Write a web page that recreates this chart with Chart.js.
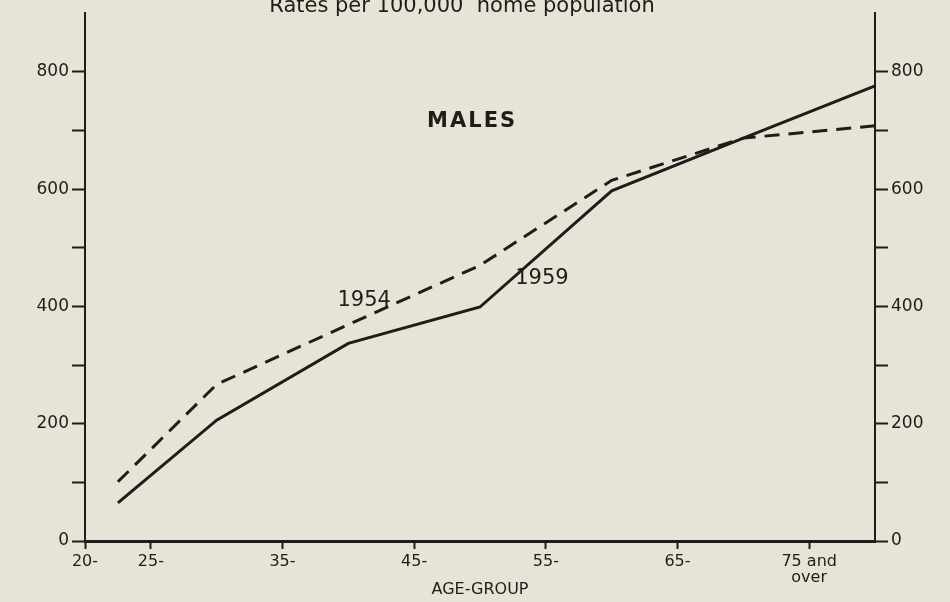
<!DOCTYPE html>
<html>
<head>
<meta charset="utf-8">
<script src="https://cdn.jsdelivr.net/npm/chart.js@4.4.1/dist/chart.umd.min.js"></script>
<style>
  html, body { margin: 0; padding: 0; background: #e7e3d6; }
  #wrap { width: 950px; height: 602px; }
</style>
</head>
<body>
<div id="wrap"><canvas id="chart" width="950" height="602"></canvas></div>
<script>
// age-group midpoints (x) and rates per 100,000 home population (y)
const ageMid = [22.5, 30, 40, 50, 60, 70, 80];
const rates1959 = [65, 206, 337, 399, 597, 687, 776];
const rates1954 = [101, 267, 369, 470, 615, 687, 708];

// x axis ticks
const ageTicks = [20, 25, 35, 45, 55, 65, 75];
const ageLabels = ["20-", "25-", "35-", "45-", "55-", "65-", ["75 and", "over"]];

// y axis ticks (labels only on every 200)
const rateTicks = [0, 100, 200, 300, 400, 500, 600, 700, 800];

const INK = "#1f1c19";
const PAPER = "#e7e3d6";
const FONT = "'DejaVu Sans', sans-serif";

const toPoints = (xs, ys) => xs.map((x, i) => ({ x: x, y: ys[i] }));

// paper background
const paperBg = {
  id: "paperBg",
  beforeDraw(chart) {
    const ctx = chart.ctx;
    ctx.save();
    ctx.fillStyle = PAPER;
    ctx.fillRect(0, 0, chart.width, chart.height);
    ctx.restore();
  },
};

// title and in-plot labels
const labelsPlugin = {
  id: "labelsPlugin",
  afterDraw(chart) {
    const ctx = chart.ctx;
    const xs = chart.scales.x;
    const ys = chart.scales.y;
    ctx.save();
    ctx.fillStyle = INK;
    ctx.textAlign = "center";

    // title, cut at the top edge as in the scan
    ctx.textBaseline = "alphabetic";
    ctx.font = "21px " + FONT;
    ctx.fillText("Rates per 100,000  home population", 462, 12);

    ctx.textBaseline = "middle";
    ctx.font = "bold 21px " + FONT;
    ctx.letterSpacing = "2px";
    ctx.fillText("MALES", xs.getPixelForValue(49.4), ys.getPixelForValue(716));
    ctx.letterSpacing = "0px";

    ctx.font = "21px " + FONT;
    ctx.fillText("1954", xs.getPixelForValue(41.2), ys.getPixelForValue(410));
    ctx.fillText("1959", xs.getPixelForValue(54.7), ys.getPixelForValue(448));
    ctx.restore();
  },
};

const yAxis = (position, width) => ({
  type: "linear",
  position: position,
  min: 0,
  max: 900,
  afterBuildTicks: (s) => { s.ticks = rateTicks.map((v) => ({ value: v })); },
  afterFit: (s) => { s.width = width; },
  border: { display: true, color: INK, width: 2 },
  grid: {
    drawOnChartArea: false,
    drawTicks: true,
    tickLength: 13,
    tickWidth: 2,
    tickColor: INK,
  },
  ticks: {
    color: INK,
    font: { family: FONT, size: 17 },
    padding: 3,
    callback: (v) => (v % 200 === 0 ? String(v) : ""),
  },
});

new Chart(document.getElementById("chart"), {
  type: "line",
  data: {
    datasets: [
      {
        label: "1959",
        data: toPoints(ageMid, rates1959),
        borderColor: INK,
        borderWidth: 3,
        pointRadius: 0,
        tension: 0,
        yAxisID: "y",
      },
      {
        label: "1954",
        data: toPoints(ageMid, rates1954),
        borderColor: INK,
        borderWidth: 3,
        borderDash: [15, 9],
        pointRadius: 0,
        tension: 0,
        yAxisID: "y",
      },
    ],
  },
  options: {
    animation: false,
    responsive: false,
    maintainAspectRatio: false,
    layout: { padding: { top: 13, left: 0, right: 0, bottom: 0 } },
    scales: {
      x: {
        type: "linear",
        position: "bottom",
        min: 20,
        max: 80,
        afterBuildTicks: (s) => { s.ticks = ageTicks.map((v) => ({ value: v })); },
        afterFit: (s) => { s.height = 61; },
        border: { display: true, color: INK, width: 3 },
        grid: {
          drawOnChartArea: false,
          drawTicks: true,
          tickLength: 8,
          tickWidth: 2,
          tickColor: INK,
        },
        ticks: {
          color: INK,
          font: { family: FONT, size: 16, lineHeight: 1.0 },
          padding: 5,
          maxRotation: 0,
          autoSkip: false,
          callback: (v, i) => ageLabels[i],
        },
        title: {
          display: true,
          text: "AGE-GROUP",
          color: INK,
          font: { family: FONT, size: 16 },
          padding: { top: 0, bottom: 3 },
        },
      },
      y: yAxis("left", 85),
      y2: yAxis("right", 75),
    },
    plugins: {
      legend: { display: false },
      tooltip: { enabled: false },
      title: { display: false },
    },
  },
  plugins: [paperBg, labelsPlugin],
});
</script>
</body>
</html>
